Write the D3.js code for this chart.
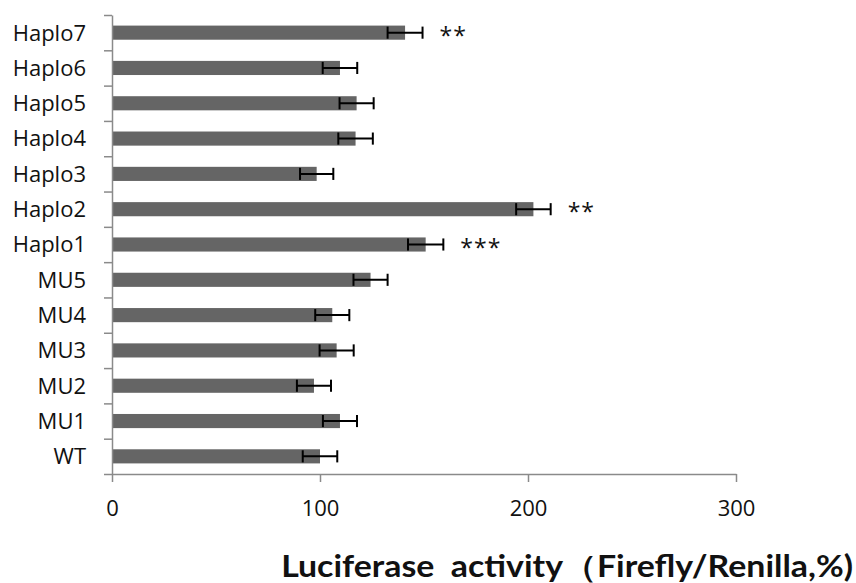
<!DOCTYPE html>
<html>
<head>
<meta charset="utf-8">
<script src="https://cdn.jsdelivr.net/npm/d3@7"></script>
<style>
  body { margin: 0; background: #fff; }
  svg { display: block; }
</style>
</head>
<body>
<svg id="chart" width="856" height="583"></svg>
<script>
// data (bottom to top)
var groups = ['WT', 'MU1', 'MU2', 'MU3', 'MU4', 'MU5', 'Haplo1', 'Haplo2', 'Haplo3', 'Haplo4', 'Haplo5', 'Haplo6', 'Haplo7'];
var activity = [100, 109.6, 97.1, 108, 105.9, 124.3, 150.8, 202.6, 98.4, 117.1, 117.6, 109.6, 140.9];
var errors = [8.3, 8.2, 8.2, 8.2, 8.2, 8.2, 8.5, 8.3, 8.0, 8.3, 8.2, 8.3, 8.4];
var signif = ['', '', '', '', '', '', '***', '**', '', '', '', '', '**'];
var xTicks = [0, 100, 200, 300];
var axisTitle = 'Luciferase  activity\uFF08Firefly/Renilla,%)';

var svg = d3.select('#chart');
var plotLeft = 112, plotRight = 736, plotTop = 15, plotBottom = 474;
var axisColor = '#8a8a8a';
var barColor = '#656565';
var labelFont = '"Open Sans", "Noto Sans", sans-serif';

var x = d3.scaleLinear().domain([0, 300]).range([plotLeft, plotRight]);
// top of the chart is the last group
var y = d3.scaleBand().domain(groups.slice().reverse()).range([plotTop, plotBottom]).paddingInner(0.6).paddingOuter(0.3);
var yEdge = d3.scaleLinear().domain([0, groups.length]).range([plotTop, plotBottom]);

var rows = groups.map(function (g, i) {
  return {name: g, v: activity[i], e: errors[i], s: signif[i]};
});

// bars
svg.append('g').selectAll('rect').data(rows).join('rect')
  .attr('x', x(0))
  .attr('y', function (d) { return y(d.name); })
  .attr('width', function (d) { return x(d.v) - x(0); })
  .attr('height', y.bandwidth())
  .attr('fill', barColor);

// error bars
var eb = svg.append('g').attr('stroke', '#000').attr('stroke-width', 2);
rows.forEach(function (d) {
  var cy = y(d.name) + y.bandwidth() / 2;
  var y0 = y(d.name) + 1, y1 = y(d.name) + y.bandwidth() - 1;
  eb.append('line').attr('x1', x(d.v - d.e)).attr('x2', x(d.v + d.e)).attr('y1', cy).attr('y2', cy);
  eb.append('line').attr('x1', x(d.v - d.e)).attr('x2', x(d.v - d.e)).attr('y1', y0).attr('y2', y1);
  eb.append('line').attr('x1', x(d.v + d.e)).attr('x2', x(d.v + d.e)).attr('y1', y0).attr('y2', y1);
});

// significance stars
svg.append('g').selectAll('text').data(rows.filter(function (d) { return d.s; })).join('text')
  .attr('x', function (d) { return x(d.v + d.e) + 17; })
  .attr('y', function (d) { return y(d.name) + y.bandwidth() / 2 + 11; })
  .attr('font-family', labelFont)
  .attr('font-size', 23)
  .attr('letter-spacing', 1)
  .attr('fill', '#111')
  .text(function (d) { return d.s; });

// y axis with ticks on the category boundaries
var yAxis = svg.append('g').attr('transform', 'translate(' + plotLeft + ',0)')
  .call(d3.axisLeft(yEdge).tickValues(d3.range(groups.length + 1)).tickSize(8).tickSizeOuter(0).tickFormat(''));
// x axis
var xAxis = svg.append('g').attr('transform', 'translate(0,' + plotBottom + ')')
  .call(d3.axisBottom(x).tickValues(xTicks).tickSize(8).tickSizeOuter(0).tickPadding(18));

[yAxis, xAxis].forEach(function (a) {
  a.select('.domain').attr('stroke', axisColor).attr('stroke-width', 1.5);
  a.selectAll('.tick line').attr('stroke', axisColor).attr('stroke-width', 1.5);
});
xAxis.selectAll('.tick text')
  .attr('font-family', labelFont)
  .attr('font-size', 22)
  .attr('fill', '#111');

// category labels
svg.append('g').selectAll('text').data(rows).join('text')
  .attr('x', 86)
  .attr('y', function (d) { return y(d.name) + y.bandwidth() / 2; })
  .attr('dy', '0.36em')
  .attr('text-anchor', 'end')
  .attr('font-family', labelFont)
  .attr('font-size', 22)
  .attr('fill', '#111')
  .text(function (d) { return d.name; });

// axis title, fitted to the width it takes in the picture
var title = svg.append('text')
  .attr('x', 0)
  .attr('y', 0)
  .attr('text-anchor', 'end')
  .attr('font-family', 'Lato, "Open Sans", sans-serif')
  .attr('font-weight', 'bold')
  .attr('font-size', 30)
  .style('white-space', 'pre')
  .attr('fill', '#111')
  .text(axisTitle);
var w = title.node().getComputedTextLength();
title.attr('transform', 'translate(853,577) scale(' + (572 / w) + ',1)');
</script>
</body>
</html>
